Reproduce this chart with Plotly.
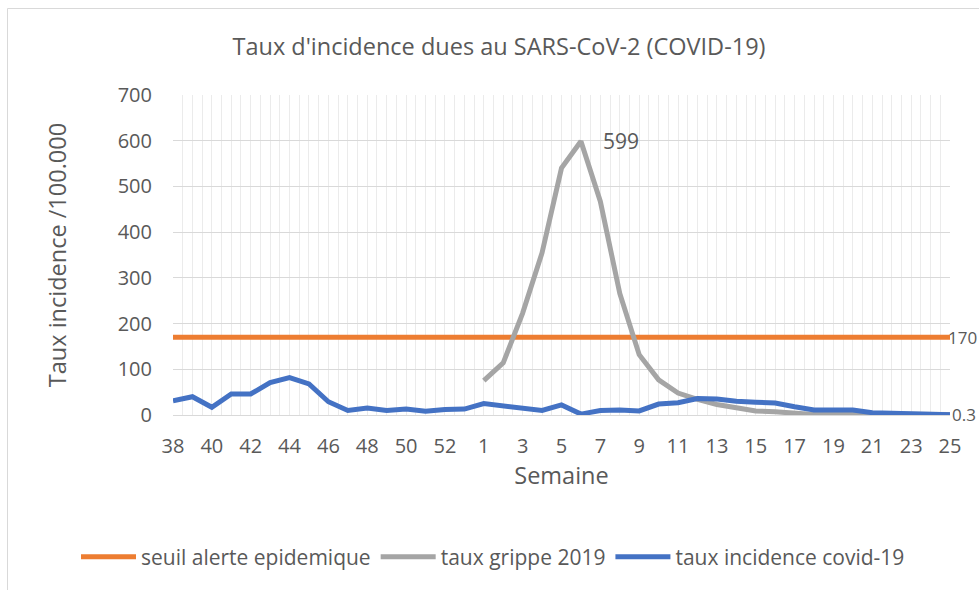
import plotly.graph_objects as go

weeks = ["38", "39", "40", "41", "42", "43", "44", "45", "46", "47", "48", "49", "50", "51", "52", "53",
         "1", "2", "3", "4", "5", "6", "7", "8", "9", "10", "11", "12", "13", "14", "15", "16", "17",
         "18", "19", "20", "21", "22", "23", "24", "25"]

seuil = [170] * 41

grippe_2019 = [None] * 16 + [75, 114, 223, 355, 540, 599, 467, 266, 132, 77, 48, 34, 23, 16, 9, 7, 5,
                             1, 3, 3, 2, 2, 1, 1, 1]

covid_19 = [31, 40, 17, 46, 46, 71, 82, 68, 29, 10, 15, 10, 13, 8, 12, 13,
            25, 20, 16, 10, 22, 2, 10, 11, 9, 24, 27, 36, 35, 30, 28, 26, 18,
            11, 11, 11, 5, 4, 4, 1.5, 0.3]

FONT = "Open Sans"
TXT = "#595959"

x = list(range(len(weeks)))

fig = go.Figure()
fig.add_trace(go.Scatter(x=x, y=seuil, mode="lines", name="seuil alerte epidemique",
                         line=dict(color="#ED7D31", width=5)))
fig.add_trace(go.Scatter(x=x, y=grippe_2019, mode="lines", name="taux grippe 2019",
                         line=dict(color="#A5A5A5", width=5), connectgaps=False))
fig.add_trace(go.Scatter(x=x, y=covid_19, mode="lines", name="taux incidence covid-19",
                         line=dict(color="#4472C4", width=5)))

# data labels
peak_i = max(range(len(grippe_2019)), key=lambda i: grippe_2019[i] or 0)
fig.add_annotation(x=x[peak_i], y=grippe_2019[peak_i], text=str(grippe_2019[peak_i]),
                   xanchor="left", yanchor="middle", xshift=20, showarrow=False,
                   font=dict(family=FONT, size=21, color=TXT))
fig.add_annotation(x=x[-1], y=seuil[-1], text=str(seuil[-1]),
                   xanchor="left", yanchor="middle", xshift=-4, showarrow=False,
                   font=dict(family=FONT, size=17, color=TXT))
fig.add_annotation(x=x[-1], y=covid_19[-1], text=str(covid_19[-1]),
                   xanchor="left", yanchor="middle", xshift=0, showarrow=False,
                   font=dict(family=FONT, size=17, color=TXT))

L, R, T, B = 173, 950, 95, 415
W, H = 979, 590
pw, ph = R - L, B - T
def px(v): return (v - L) / pw
def py(v): return (B - v) / ph

fig.add_shape(type="path", xref="paper", yref="paper",
              path=f"M {px(7.5)},{py(600)} L {px(7.5)},{py(8.5)} L {px(995)},{py(8.5)}",
              line=dict(color="#D9D9D9", width=1))

fig.update_layout(
    width=W, height=H,
    margin=dict(l=L, r=W - R, t=T, b=H - B),
    paper_bgcolor="white", plot_bgcolor="white",
    font=dict(family=FONT, color=TXT, size=20),
    title=dict(text="Taux d'incidence dues au SARS-CoV-2 (COVID-19)",
               x=499 / W, xref="container", xanchor="center",
               y=1 - 47 / H, yref="container", yanchor="middle",
               font=dict(family=FONT, size=23.5, color=TXT)),
    showlegend=True,
    legend=dict(orientation="h", x=px(76), xanchor="left", y=py(557), yanchor="middle",
                font=dict(family=FONT, size=21, color=TXT), itemwidth=55,
                bgcolor="rgba(0,0,0,0)"),
    xaxis=dict(range=[0, len(weeks) - 1], tickmode="array", tickvals=x[::2], ticktext=weeks[::2],
               showgrid=True, gridcolor="#EBEBEB", gridwidth=1,
               minor=dict(dtick=0.5, tick0=0, showgrid=True, gridcolor="#EBEBEB", gridwidth=1),
               showline=True, linecolor="#D9D9D9", linewidth=1, zeroline=False,
               ticks="", ticklabelstandoff=13,
               tickfont=dict(family=FONT, size=20, color=TXT),
               title=dict(text="Semaine", standoff=0, font=dict(family=FONT, size=23.5, color=TXT))),
    yaxis=dict(range=[0, 700], dtick=100, tick0=0, showgrid=True, gridcolor="#D9D9D9", gridwidth=1,
               zeroline=False, showline=False, ticks="", ticklabelstandoff=20,
               tickfont=dict(family=FONT, size=20, color=TXT),
               title=dict(text="Taux incidence /100.000", standoff=44,
                          font=dict(family=FONT, size=23.5, color=TXT))),
)

fig.write_html("out.html", config={"displayModeBar": False},
               post_script="document.body.style.margin='0';document.body.style.overflow='hidden';")
